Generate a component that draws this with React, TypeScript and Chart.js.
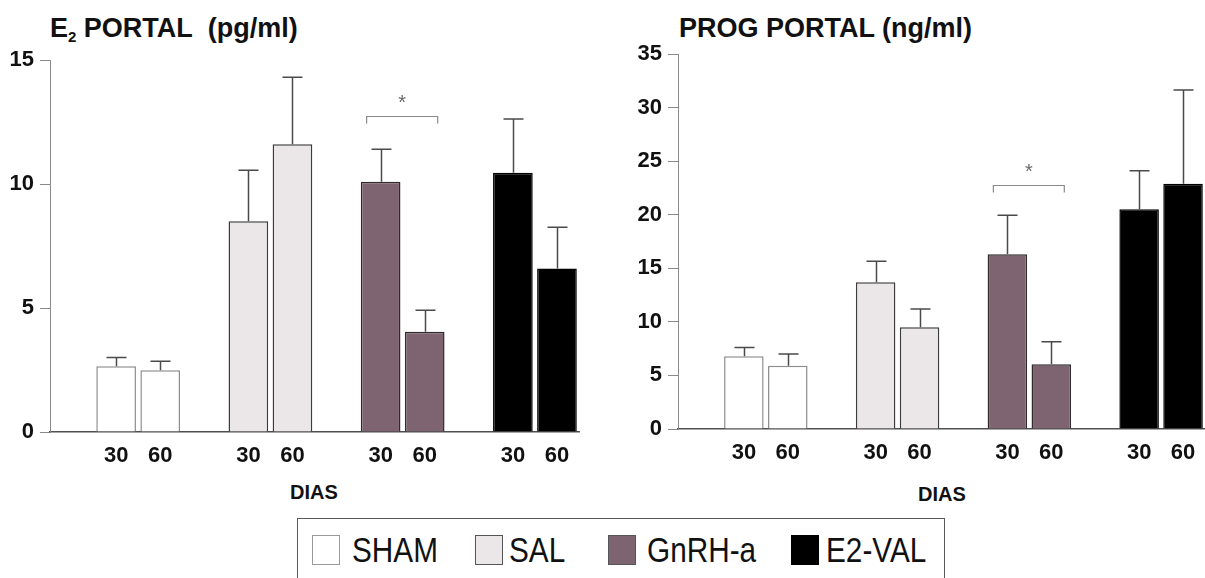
import React, { useEffect, useRef } from 'react';
import { Chart, registerables } from 'chart.js';
Chart.register(...registerables);

const groups = ['SHAM', 'SAL', 'GnRH-a', 'E2-VAL'];
const days = ['30', '60'];
const groupFills = ['#ffffff', '#ebe6e7', '#7e6470', '#000000'];
const groupBorders = ['#8c8c8c', '#3c3c3c', '#2f2a2c', '#000000'];

// E2 portal (pg/ml): mean and upper error, order SHAM30, SHAM60, SAL30, SAL60, ...
const e2Means = [2.65, 2.49, 8.5, 11.6, 10.09, 4.04, 10.45, 6.59];
const e2Errors = [0.35, 0.36, 2.05, 2.7, 1.31, 0.87, 2.17, 1.67];
const e2Ticks = [0, 5, 10, 15];
const e2BracketLevel = 12.74;

// PROG portal (ng/ml)
const progMeans = [6.8, 5.9, 13.7, 9.5, 16.3, 6.04, 20.5, 22.9];
const progErrors = [0.8, 1.1, 1.95, 1.7, 3.65, 2.1, 3.6, 8.75];
const progTicks = [0, 5, 10, 15, 20, 25, 30, 35];
const progBracketLevel = 22.8;

const sigGroup = 2; // GnRH-a 30 vs 60

const SANS = "'Liberation Sans', Arial, sans-serif";

function buildSeries(means: number[], errs: number[]) {
  const labels: string[] = [];
  const data: (number | null)[] = [];
  const errors: (number | null)[] = [];
  const fills: string[] = [];
  const borders: string[] = [];
  groups.forEach((g, gi) => {
    labels.push('');
    data.push(null);
    errors.push(null);
    fills.push('#ffffff');
    borders.push('#ffffff');
    days.forEach((d, di) => {
      labels.push(d);
      data.push(means[gi * 2 + di]);
      errors.push(errs[gi * 2 + di]);
      fills.push(groupFills[gi]);
      borders.push(groupBorders[gi]);
    });
  });
  return { labels, data, errors, fills, borders };
}

const errorPlugin = {
  id: 'errs',
  afterDatasetsDraw(chart: any, _args: any, opts: any) {
    const { ctx } = chart;
    const y = chart.scales.y;
    const meta = chart.getDatasetMeta(0);
    const data = chart.data.datasets[0].data;
    ctx.save();
    ctx.strokeStyle = '#4a4a4a';
    ctx.lineWidth = 1.5;
    (opts.errors as (number | null)[]).forEach((err, i) => {
      if (err == null || data[i] == null) return;
      const el = meta.data[i];
      const x = Math.round(el.x) + 0.5;
      const y0 = y.getPixelForValue(data[i]);
      const y1 = y.getPixelForValue(data[i] + err);
      ctx.beginPath();
      ctx.moveTo(x, y0);
      ctx.lineTo(x, y1);
      ctx.moveTo(x - 10, y1);
      ctx.lineTo(x + 10, y1);
      ctx.stroke();
    });
    // significance bracket
    const i30 = opts.sigGroup * 3 + 1;
    const i60 = opts.sigGroup * 3 + 2;
    const x0 = meta.data[i30].x - 14;
    const x1 = meta.data[i60].x + 13;
    const yb = Math.round(y.getPixelForValue(opts.bracket)) + 0.5;
    ctx.strokeStyle = '#8a8a8a';
    ctx.lineWidth = 1.2;
    ctx.beginPath();
    ctx.moveTo(x0, yb + 7);
    ctx.lineTo(x0, yb);
    ctx.lineTo(x1, yb);
    ctx.lineTo(x1, yb + 7);
    ctx.stroke();
    ctx.fillStyle = '#6a6a6a';
    ctx.font = '20px ' + SANS;
    ctx.textAlign = 'center';
    ctx.textBaseline = 'middle';
    ctx.fillText('*', (x0 + x1) / 2, yb - 13);
    ctx.restore();
  },
};

function makeConfig(
  means: number[],
  errs: number[],
  ticks: number[],
  bracket: number,
  dims: { yWidth: number; top: number; right: number; xHeight: number }
) {
  const s = buildSeries(means, errs);
  return {
    type: 'bar',
    data: {
      labels: s.labels,
      datasets: [
        {
          data: s.data,
          backgroundColor: s.fills,
          borderColor: s.borders,
          borderWidth: 1.5,
          borderSkipped: 'bottom',
          barPercentage: 0.9,
          categoryPercentage: 1,
        },
      ],
    },
    options: {
      animation: false,
      responsive: false,
      maintainAspectRatio: false,
      layout: { padding: { top: dims.top, right: dims.right, left: 0, bottom: 0 } },
      plugins: {
        legend: { display: false },
        tooltip: { enabled: false },
        errs: { errors: s.errors, bracket, sigGroup },
      },
      scales: {
        x: {
          grid: { display: false },
          border: { display: true, color: '#505050', width: 1.5 },
          ticks: {
            autoSkip: false,
            maxRotation: 0,
            padding: 3,
            color: '#111',
            font: { family: SANS, size: 22, weight: 'bold' },
          },
          afterFit: (sc: any) => {
            sc.height = dims.xHeight;
          },
        },
        y: {
          min: 0,
          max: ticks[ticks.length - 1],
          afterBuildTicks: (sc: any) => {
            sc.ticks = ticks.map((v) => ({ value: v }));
          },
          grid: { drawOnChartArea: false, drawTicks: true, tickLength: 10, color: '#8a8a8a', lineWidth: 1 },
          border: { display: true, color: '#8a8a8a', width: 1 },
          ticks: {
            padding: 6,
            color: '#111',
            font: { family: SANS, size: 22, weight: 'bold' },
          },
          afterFit: (sc: any) => {
            sc.width = dims.yWidth;
          },
        },
      },
    },
    plugins: [errorPlugin],
  };
}

function BarChart(props: { cfg: any; w: number; h: number; left: number }) {
  const ref = useRef<HTMLCanvasElement | null>(null);
  useEffect(() => {
    const c = new Chart(ref.current as HTMLCanvasElement, props.cfg);
    return () => c.destroy();
  }, []);
  return (
    <canvas
      ref={ref}
      width={props.w}
      height={props.h}
      style={{ position: 'absolute', left: props.left, top: 0, width: props.w, height: props.h }}
    />
  );
}

const legendItems = [
  { label: groups[0], fill: groupFills[0], border: '#9a9a9a', sq: 312, tx: 352 },
  { label: groups[1], fill: groupFills[1], border: '#555', sq: 475, tx: 509 },
  { label: groups[2], fill: groupFills[2], border: '#555', sq: 608, tx: 647 },
  { label: groups[3], fill: groupFills[3], border: '#000', sq: 791, tx: 826 },
];

export default function App() {
  const leftCfg = makeConfig(e2Means, e2Errors, e2Ticks, e2BracketLevel, {
    yWidth: 50,
    top: 60,
    right: 21,
    xHeight: 46,
  });
  const rightCfg = makeConfig(progMeans, progErrors, progTicks, progBracketLevel, {
    yWidth: 78,
    top: 54,
    right: 0,
    xHeight: 49,
  });
  const titleStyle: React.CSSProperties = {
    position: 'absolute',
    top: 13,
    fontFamily: SANS,
    fontWeight: 'bold',
    fontSize: 27,
    lineHeight: '30px',
    color: '#111',
    whiteSpace: 'nowrap',
  };
  const diasStyle: React.CSSProperties = {
    position: 'absolute',
    top: 482,
    width: 100,
    textAlign: 'center',
    fontFamily: SANS,
    fontWeight: 'bold',
    fontSize: 20,
    lineHeight: '20px',
    color: '#111',
  };
  return (
    <div
      style={{
        position: 'absolute',
        left: 0,
        top: 0,
        width: 1205,
        height: 578,
        overflow: 'hidden',
        background: '#fff',
      }}
    >
      <div style={{ ...titleStyle, left: 50 }}>
        E<span style={{ fontSize: 15, position: 'relative', top: 5 }}>2</span> PORTAL&nbsp; (pg/ml)
      </div>
      <div style={{ ...titleStyle, left: 679 }}>PROG PORTAL (ng/ml)</div>
      <BarChart cfg={leftCfg} w={600} h={478} left={0} />
      <BarChart cfg={rightCfg} w={605} h={478} left={600} />
      <div style={{ ...diasStyle, left: 264 }}>DIAS</div>
      <div style={{ ...diasStyle, left: 892, top: 484 }}>DIAS</div>
      <div
        style={{
          position: 'absolute',
          left: 297,
          top: 518,
          width: 648,
          height: 90,
          border: '1.5px solid #5a5a5a',
          boxSizing: 'border-box',
        }}
      />
      {legendItems.map((it) => (
        <React.Fragment key={it.label}>
          <div
            style={{
              position: 'absolute',
              left: it.sq,
              top: 535,
              width: 28,
              height: 30,
              background: it.fill,
              border: '1.5px solid ' + it.border,
              boxSizing: 'border-box',
            }}
          />
          <div
            style={{
              position: 'absolute',
              left: it.tx,
              top: 532,
              fontFamily: SANS,
              fontSize: 35,
              lineHeight: '35px',
              color: '#111',
              whiteSpace: 'nowrap',
              transform: 'scaleX(0.85)',
              transformOrigin: 'left top',
            }}
          >
            {it.label}
          </div>
        </React.Fragment>
      ))}
    </div>
  );
}
